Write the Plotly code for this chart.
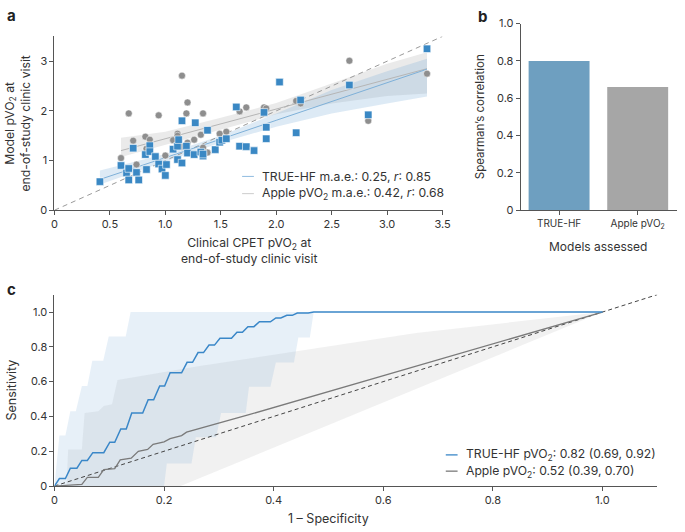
import plotly.graph_objects as go

W, H = 685, 532
FONT = "Inter"

# ---------------- Panel a data ----------------
hf_true = [0.41,0.60,0.65,0.67,0.67,0.71,0.74,0.76,0.82,0.83,0.86,0.86,0.91,0.94,0.97,1.00,1.01,1.07,1.11,1.11,
           1.12,1.15,1.15,1.19,1.20,1.26,1.27,1.32,1.34,1.34,1.38,1.45,1.49,1.51,1.55,1.64,1.67,1.73,1.80,1.89,
           1.91,1.91,2.03,2.18,2.22,2.66,2.83,3.36]
hf_pred = [0.575,0.90,0.75,0.84,0.61,1.25,0.76,0.61,1.12,0.82,1.30,1.18,1.08,0.93,0.83,0.70,0.92,1.23,1.02,1.29,
           1.42,1.80,0.95,1.29,1.15,1.12,1.76,1.17,1.09,1.13,1.61,1.22,1.37,1.41,1.44,2.08,1.29,1.28,1.20,1.97,
           1.67,1.44,2.58,1.56,2.22,2.52,1.92,3.25]
ap_true = [0.60,0.67,0.71,0.74,0.82,0.83,0.86,0.94,1.00,1.07,1.11,1.11,1.15,1.15,1.19,1.20,1.20,1.26,1.32,1.34,
           1.34,1.38,1.49,1.55,1.67,1.73,1.89,1.91,2.18,2.22,2.66,2.83,3.36]
ap_pred = [1.05,1.95,1.40,0.92,1.48,1.24,1.42,1.91,1.10,1.41,1.54,1.50,2.71,1.28,1.95,1.36,2.17,1.42,1.52,1.95,
           1.26,1.16,1.54,1.58,1.99,2.07,2.07,2.05,2.20,2.15,3.01,1.80,2.75]

hf_fit_x = [0.41, 1.0, 1.5, 2.0, 2.5, 3.0, 3.36]
hf_fit_y = [0.62, 1.05, 1.43, 1.81, 2.19, 2.57, 2.84]
hf_fit_lo = [0.52, 0.98, 1.36, 1.68, 1.95, 2.15, 2.29]
hf_fit_hi = [0.80, 1.13, 1.50, 1.95, 2.42, 2.80, 3.05]

ap_fit_x = [0.60, 1.0, 1.5, 2.0, 2.5, 3.0, 3.36]
ap_fit_y = [1.20, 1.44, 1.74, 2.04, 2.34, 2.63, 2.85]
ap_fit_lo = [1.07, 1.32, 1.62, 1.93, 2.15, 2.30, 2.35]
ap_fit_hi = [1.46, 1.58, 1.86, 2.16, 2.55, 2.95, 3.18]

identity_a = [0, 3.5]

# ---------------- Panel b data ----------------
models = ["TRUE-HF", "Apple pVO<sub>2</sub>"]
spearman = [0.80, 0.66]

# ---------------- Panel c data ----------------
hf_fpr = [0,0.009,0.020,0.029,0.041,0.050,0.060,0.070,0.090,0.101,0.110,0.121,0.131,0.141,0.161,0.171,0.181,0.192,
          0.201,0.211,0.232,0.242,0.252,0.262,0.272,0.282,0.292,0.302,0.323,0.333,0.343,0.353,0.364,0.374,0.394,
          0.404,0.413,0.424,0.434,0.443,0.463,0.473,1.0]
hf_tpr = [0,0.043,0.043,0.103,0.103,0.147,0.147,0.192,0.192,0.252,0.252,0.328,0.328,0.420,0.420,0.496,0.496,0.575,
          0.575,0.651,0.651,0.711,0.711,0.767,0.767,0.810,0.810,0.849,0.849,0.884,0.884,0.916,0.916,0.944,0.944,
          0.966,0.966,0.981,0.981,0.994,0.994,1.0,1.0]
hf_ci_up_x = [0,0.009,0.020,0.029,0.039,0.050,0.060,0.069,0.089,0.099,0.130,0.139,1.0]
hf_ci_up_y = [0,0.29,0.29,0.43,0.43,0.575,0.575,0.72,0.72,0.86,0.86,1.0,1.0]
hf_ci_lo_x = [0,0.200,0.205,0.250,0.258,0.295,0.304,0.349,0.355,0.394,0.404,0.437,0.445,0.466,0.473,1.0]
hf_ci_lo_y = [0,0,0.13,0.13,0.28,0.28,0.42,0.42,0.57,0.57,0.71,0.71,0.854,0.854,1.0,1.0]

ap_fpr = [0,0.05,0.06,0.08,0.09,0.11,0.12,0.14,0.153,0.17,0.18,0.20,0.211,0.232,0.241,0.355,1.0]
ap_tpr = [0,0.01,0.05,0.05,0.095,0.10,0.15,0.16,0.20,0.21,0.24,0.254,0.272,0.29,0.31,0.41,1.0]
ap_ci_up_x = [0,0.022,0.025,0.05,0.055,0.08,0.09,0.105,0.115,0.265,0.66,1.0]
ap_ci_up_y = [0,0.0,0.21,0.21,0.42,0.43,0.46,0.47,0.61,0.69,0.88,1.0]
ap_ci_lo_x = [0,0.23,1.0]
ap_ci_lo_y = [0,0,1.0]

identity_c = [0, 1.1]

# ---------------- colours ----------------
BLUE_PT = "#3a88c4"
GRAY_PT = "#8e8e8e"
BLUE_BAND = "rgba(120,170,215,0.25)"
GRAY_BAND = "rgba(150,150,150,0.2)"
BLUE_ROC = "#3a87c8"
GRAY_ROC = "#7a7a7a"
TXT = "#333"

fig = go.Figure()

def band(x, lo, hi, color, xa, ya):
    fig.add_trace(go.Scatter(x=list(x) + list(x)[::-1], y=list(hi) + list(lo)[::-1],
                             fill="toself", fillcolor=color, line=dict(width=0),
                             mode="lines", hoverinfo="skip", showlegend=False, xaxis=xa, yaxis=ya))

# panel a
band(ap_fit_x, ap_fit_lo, ap_fit_hi, GRAY_BAND, "x", "y")
band(hf_fit_x, hf_fit_lo, hf_fit_hi, BLUE_BAND, "x", "y")
fig.add_trace(go.Scatter(x=identity_a, y=identity_a, mode="lines",
                         line=dict(color="#9a9a9a", width=1, dash="5px,4px"), showlegend=False))
fig.add_trace(go.Scatter(x=ap_fit_x, y=ap_fit_y, mode="lines", line=dict(color="#b5b5b5", width=1), showlegend=False))
fig.add_trace(go.Scatter(x=hf_fit_x, y=hf_fit_y, mode="lines", line=dict(color="#7eb0d8", width=1), showlegend=False))
fig.add_trace(go.Scatter(x=ap_true, y=ap_pred, mode="markers",
                         marker=dict(symbol="circle", size=7, color=GRAY_PT, line=dict(width=0.5, color="white")),
                         showlegend=False))
fig.add_trace(go.Scatter(x=hf_true, y=hf_pred, mode="markers",
                         marker=dict(symbol="square", size=7.5, color=BLUE_PT, line=dict(width=0.6, color="white")),
                         showlegend=False))

# panel b
fig.add_trace(go.Bar(x=[0, 1], y=spearman, marker=dict(color=["#6e9fc0", "#a6a6a6"], line=dict(width=0)),
                     width=0.775, xaxis="x2", yaxis="y2", showlegend=False))

# panel c
fig.add_trace(go.Scatter(x=ap_ci_up_x + ap_ci_lo_x[::-1], y=ap_ci_up_y + ap_ci_lo_y[::-1],
                         fill="toself", fillcolor="rgba(150,150,150,0.13)", line=dict(width=0), mode="lines",
                         hoverinfo="skip", showlegend=False, xaxis="x3", yaxis="y3"))
fig.add_trace(go.Scatter(x=hf_ci_up_x + hf_ci_lo_x[::-1], y=hf_ci_up_y + hf_ci_lo_y[::-1],
                         fill="toself", fillcolor="rgba(120,170,215,0.18)", line=dict(width=0), mode="lines",
                         hoverinfo="skip", showlegend=False, xaxis="x3", yaxis="y3"))
fig.add_trace(go.Scatter(x=identity_c, y=identity_c, mode="lines", line=dict(color="#444", width=1, dash="4px,3px"),
                         showlegend=False, xaxis="x3", yaxis="y3"))
fig.add_trace(go.Scatter(x=ap_fpr, y=ap_tpr, mode="lines", line=dict(color=GRAY_ROC, width=1.3),
                         showlegend=False, xaxis="x3", yaxis="y3"))
fig.add_trace(go.Scatter(x=hf_fpr, y=hf_tpr, mode="lines", line=dict(color=BLUE_ROC, width=1.5),
                         showlegend=False, xaxis="x3", yaxis="y3"))

def px_x(v): return v / W
def px_y(v): return 1 - v / H

axis_common = dict(showline=True, linecolor="#555", linewidth=1, ticks="outside", ticklen=4, tickcolor="#555",
                   showgrid=False, zeroline=False, tickfont=dict(size=11, color=TXT, family=FONT))

fig.update_layout(
    width=W, height=H, margin=dict(l=0, r=0, t=0, b=0), plot_bgcolor="white", paper_bgcolor="white",
    font=dict(family=FONT, color=TXT),
    xaxis=dict(domain=[px_x(52.3), px_x(446.7)], range=[0, 3.5], anchor="y",
               tickvals=[0, 0.5, 1, 1.5, 2, 2.5, 3, 3.5],
               ticktext=["0", "0.5", "1.0", "1.5", "2.0", "2.5", "3.0", "3.5"], **axis_common),
    yaxis=dict(domain=[px_y(208.7), px_y(30.2)], range=[0, 3.5], anchor="x",
               tickvals=[0, 1, 2, 3], ticktext=["0", "1", "2", "3"], **axis_common),
    xaxis2=dict(domain=[px_x(526), 1.0], range=[-0.49, 1.5], anchor="y2",
                tickvals=[0, 1], ticktext=models, **{**axis_common, "tickfont": dict(size=10, color=TXT, family=FONT)}),
    yaxis2=dict(domain=[px_y(208.7), px_y(17.0)], range=[0, 1.0], anchor="x2",
                tickvals=[0, 0.2, 0.4, 0.6, 0.8, 1.0], ticktext=["0", "0.2", "0.4", "0.6", "0.8", "1.0"], **axis_common),
    xaxis3=dict(domain=[px_x(52.3), px_x(665)], range=[0, 1.1], anchor="y3",
                tickvals=[0, 0.2, 0.4, 0.6, 0.8, 1.0], ticktext=["0", "0.2", "0.4", "0.6", "0.8", "1.0"], **axis_common),
    yaxis3=dict(domain=[px_y(492), px_y(295.4)], range=[0, 1.1], anchor="x3",
                tickvals=[0, 0.2, 0.4, 0.6, 0.8, 1.0], ticktext=["0", "0.2", "0.4", "0.6", "0.8", "1.0"], **axis_common),
)

def ann(text, x, y, size=12.2, xanchor="center", yanchor="middle", angle=0, bold=False, xref="paper", yref="paper"):
    fig.add_annotation(text=f"<b>{text}</b>" if bold else text, x=x, y=y, xref=xref, yref=yref,
                       showarrow=False, xanchor=xanchor, yanchor=yanchor, textangle=angle,
                       font=dict(size=size, color="#222" if bold else TXT, family=FONT))

# panel labels
ann("a", px_x(2), px_y(9), size=15, xanchor="left", bold=True)
ann("b", px_x(481), px_y(10), size=15, xanchor="left", bold=True)
ann("c", px_x(2), px_y(290), size=15, xanchor="left", bold=True)

# axis titles
ann("Clinical CPET pVO<sub>2</sub> at<br>end-of-study clinic visit", px_x(250), px_y(250))
ann("Model pVO<sub>2</sub> at<br>end-of-study clinic visit", px_x(15), px_y(120), angle=-90)
ann("Spearman’s correlation", px_x(485), px_y(113), size=11.5, angle=-90)
ann("Models assessed", px_x(605), px_y(246), size=12)
ann("Sensitivity", px_x(9), px_y(393), size=12.5, angle=-90)
ann("1 – Specificity", 0.5, px_y(525), size=12.5, xref="x3")

# legends (panel a)
for yy, col, txt in [(174, "#8fbbe0", "TRUE-HF m.a.e.: 0.25, <i>r</i>: 0.85"),
                     (191.7, "#cccccc", "Apple pVO<sub>2</sub> m.a.e.: 0.42, <i>r</i>: 0.68")]:
    fig.add_shape(type="line", xref="paper", yref="paper", x0=px_x(243), x1=px_x(255), y0=px_y(yy), y1=px_y(yy),
                  line=dict(color=col, width=1))
    ann(txt, px_x(261), px_y(yy), size=12.2, xanchor="left")

# legends (panel c)
for yy, col, txt in [(460, BLUE_ROC, "TRUE-HF pVO<sub>2</sub>: 0.82 (0.69, 0.92)"),
                     (476.7, GRAY_ROC, "Apple pVO<sub>2</sub>: 0.52 (0.39, 0.70)")]:
    fig.add_shape(type="line", xref="paper", yref="paper", x0=px_x(450), x1=px_x(462), y0=px_y(yy), y1=px_y(yy),
                  line=dict(color=col, width=1.3))
    ann(txt, px_x(469), px_y(yy), size=12.2, xanchor="left")

fig.write_html("out.html")
